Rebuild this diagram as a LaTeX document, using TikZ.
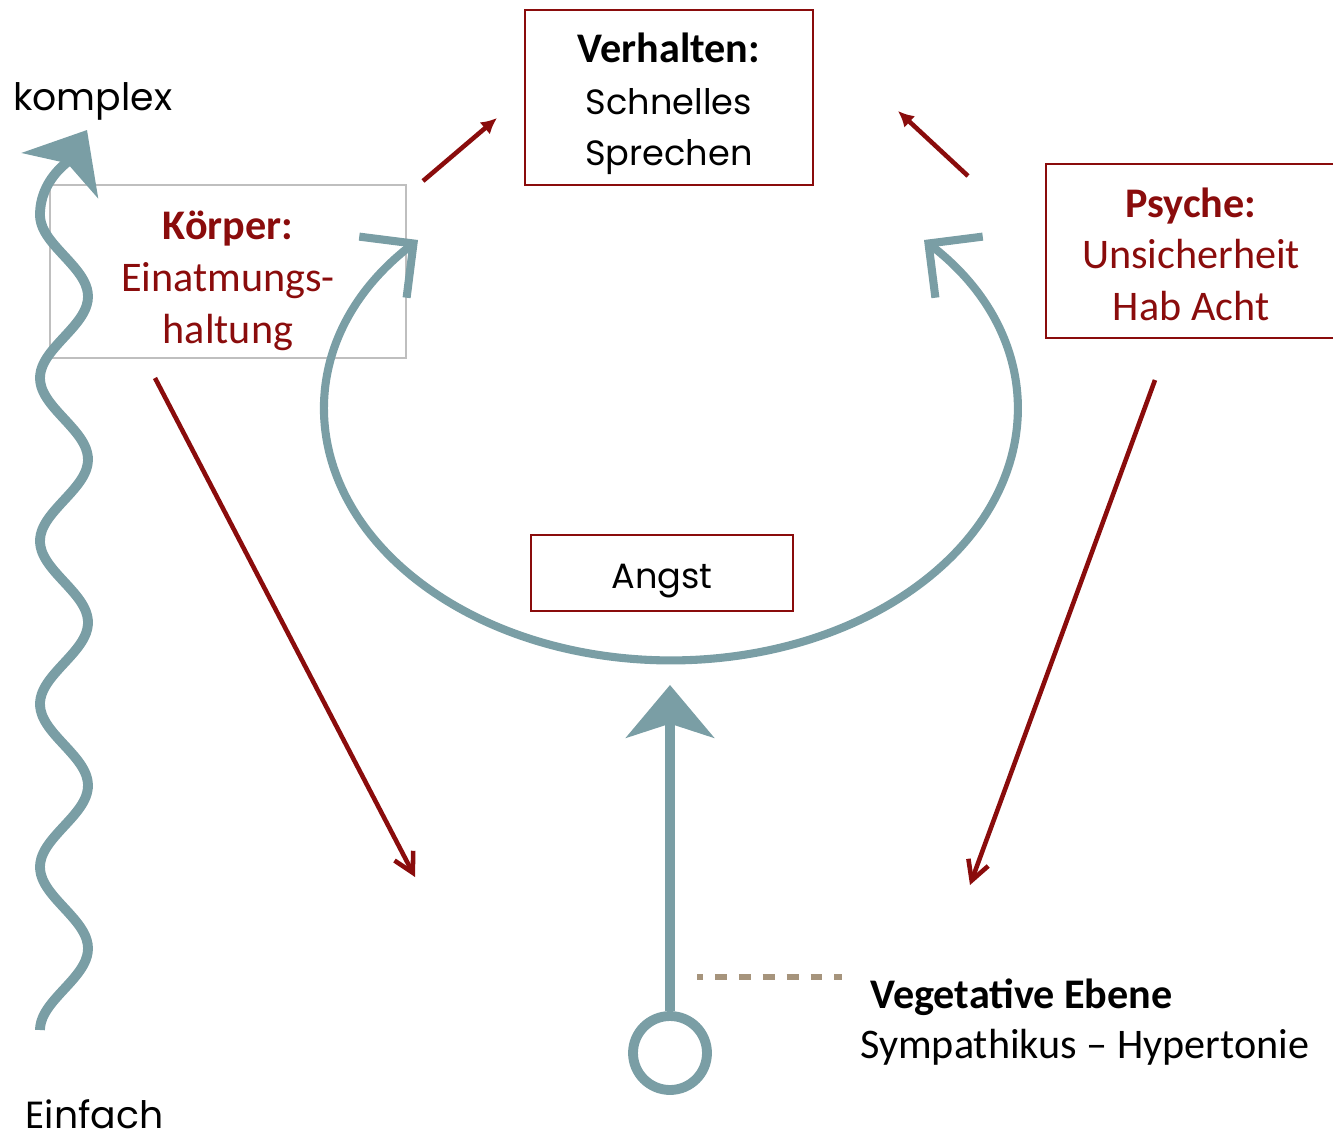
\documentclass[tikz,border=0pt]{standalone}
\usepackage{fontspec}
\setmainfont{Carlito}
\newfontfamily\geofont{Poppins}
\usepackage{tikz}
\usetikzlibrary{arrows.meta, positioning, calc}

\definecolor{loopteal}{RGB}{122,158,165}
\definecolor{boxred}{RGB}{138,12,12}
\definecolor{dashtaupe}{RGB}{166,148,124}
\newcommand{\geo}{\geofont\fontsize{20}{29.5}\selectfont}
\newcommand{\geobig}{\geofont\fontsize{21.5}{29.5}\selectfont}

\begin{document}
\begin{tikzpicture}[
  x=0.02cm, y=-0.02cm,
  box/.style  = {rectangle, draw=boxred, line width=1.1pt, align=center,
                 font=\fontsize{24}{29.5}\selectfont, inner sep=0pt},
  gbox/.style = {box, draw=black!25},
  lbl/.style  = {font=\fontsize{24}{29.5}\selectfont, inner sep=0pt, anchor=base west},
  cyc/.style  = {draw=loopteal, line width=4.6pt,
                 {Straight Barb[length=22pt, width=44pt]}-{Straight Barb[length=22pt, width=44pt]}},
  rise/.style = {draw=loopteal, line width=5.8pt,
                 -{Stealth[length=30pt, width=50pt, inset=8pt]}},
  push/.style = {draw=boxred, line width=2.6pt, -{Latex[length=9pt, width=9pt]}},
  pull/.style = {draw=boxred, line width=2.6pt, -{Straight Barb[length=11pt, width=12pt]}},
]
  \useasboundingbox (0,0) rectangle (1333,1143);

  \node[box, minimum width=5.76cm, minimum height=3.5cm] (verhalten) at (669,97.5)
    {\rule{0pt}{24pt}\textbf{Verhalten:}\\{\geo Schnelles}\\{\geo Sprechen}};
  \node[gbox, text=boxred, minimum width=7.12cm, minimum height=3.46cm] (koerper) at (228,271.5)
    {\rule{0pt}{27pt}\textbf{Körper:}\\Einatmungs-\\haltung};
  \node[box, text=boxred, minimum width=5.8cm, minimum height=3.48cm] (psyche) at (1191,251)
    {\rule{0pt}{20.5pt}\textbf{Psyche:}\\Unsicherheit\\Hab Acht};
  \node[box, font=\geo, minimum width=5.24cm, minimum height=1.52cm] (angst) at (662,573)
    {\rule{0pt}{23pt}Angst};

  \node[lbl, font=\geobig] (komplex) at (13,110) {komplex};
  \node[lbl, font=\geobig] (einfach) at (25,1128) {Einfach};
  \node[lbl] (vegetativ) at (870,1008) {\textbf{Vegetative Ebene}};
  \node[lbl] (sympath) at (860,1058) {Sympathikus -- Hypertonie};

  % Teufelskreis
  \coordinate (loopL) at (418,240);
  \coordinate (loopB) at (670,685);
  \draw[cyc] (loopL) arc[start angle=137, end angle=403, x radius=6.92cm, y radius=5cm];

  \node[circle, draw=loopteal, line width=5.6pt, fill=white, minimum size=1.48cm,
        inner sep=0pt] (wurzel) at (670,1053) {};
  \draw[rise] (wurzel) -- (loopB);

  \coordinate (dashA) at (697,977);
  \coordinate (dashB) at (842,977);
  \draw[dashtaupe, line width=3pt, dash pattern=on 6.8pt off 6.8pt, dash phase=3.4pt] (dashA) -- (dashB);

  % einfach -> komplex
  \coordinate (waveTop) at (87,130);
  \draw[rise, line width=5.6pt] plot[domain=1030:215, samples=200, smooth]
    ({64-24*cos((\x-215)/81.5*180)}, \x) .. controls (40,180) and (68,162) .. (waveTop);

  % Wechselwirkungen
  \coordinate (k1) at (423,181);  \coordinate (v1) at (497,118);
  \coordinate (p1) at (968,176);  \coordinate (v2) at (898,111);
  \coordinate (k2) at (155,378);  \coordinate (a1) at (415,877);
  \coordinate (p2) at (1155,380); \coordinate (a2) at (970,885);
  \draw[push] (k1) -- (v1);
  \draw[push] (p1) -- (v2);
  \draw[pull] (k2) -- (a1);
  \draw[pull] (p2) -- (a2);
\end{tikzpicture}
\end{document}
